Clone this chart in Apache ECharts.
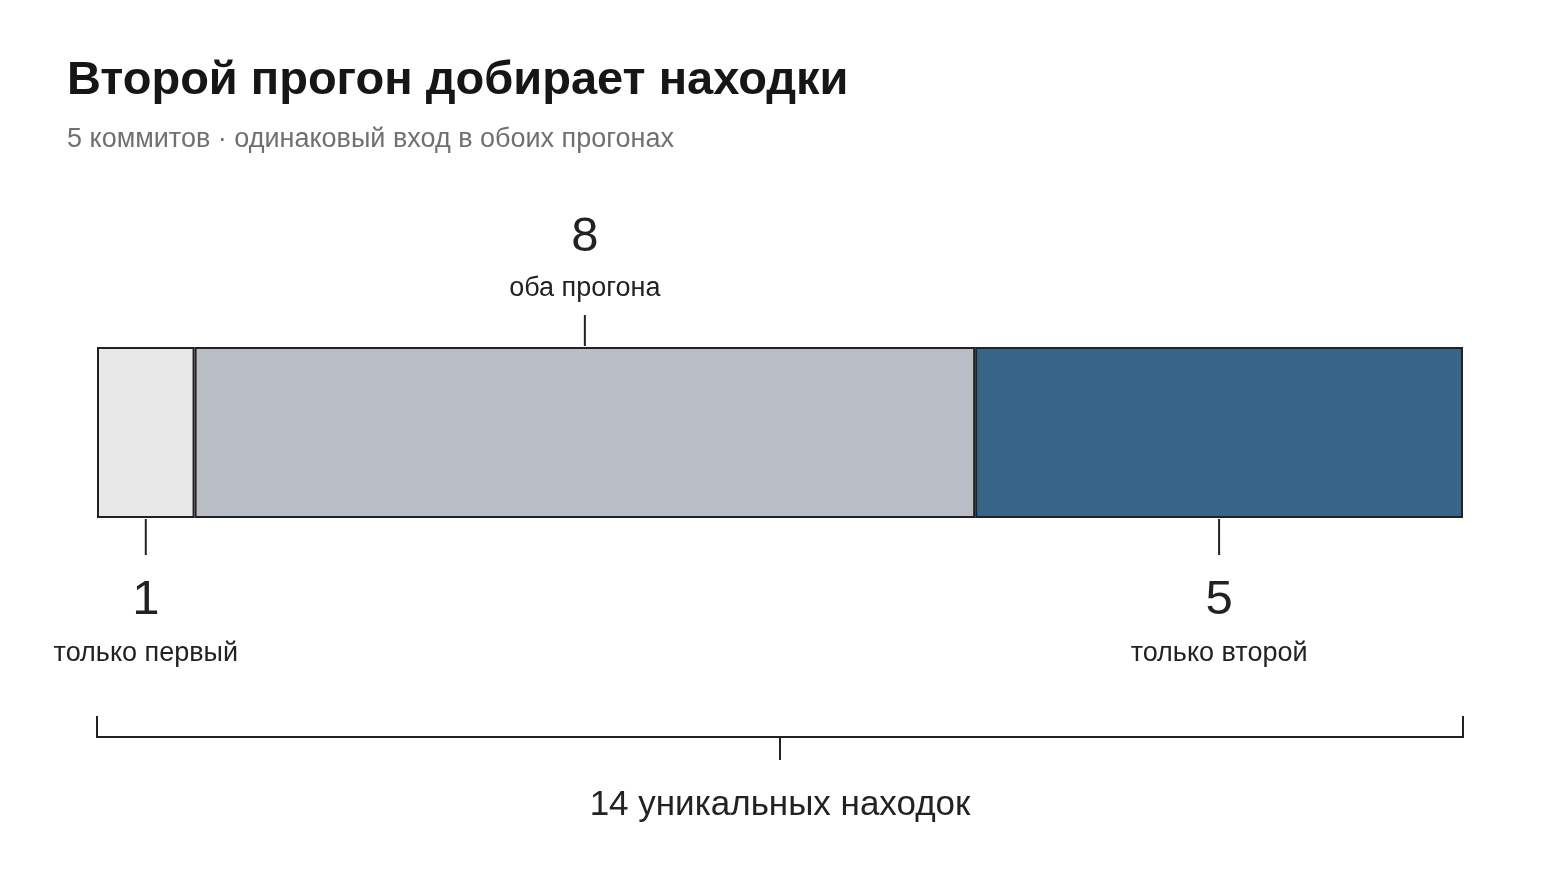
<!DOCTYPE html>
<html>
<head>
<meta charset="utf-8">
<script src="https://cdn.jsdelivr.net/npm/echarts@6/dist/echarts.min.js"></script>
<style>
  html, body { margin: 0; padding: 0; background: #fff; }
  #chart { width: 1560px; height: 877px; }
</style>
</head>
<body>
<div id="chart"></div>
<script>
// segments of the single bar
var segNames = ['только первый', 'оба прогона', 'только второй'];
var segValues = [1, 8, 5];
var segColors = ['#e8e8e8', '#b9bec6', '#376588'];
var segSide = ['bottom', 'top', 'bottom'];
var totalLabel = 'уникальных находок';

var FONT = '"Liberation Sans", Arial, sans-serif';

var chart = echarts.init(document.getElementById('chart'));

var total = 0;
var calloutData = [];
for (var i = 0; i < segValues.length; i++) {
    calloutData.push([total + segValues[i] / 2, 0, segValues[i], segNames[i], segSide[i]]);
    total += segValues[i];
}

var barSeries = segValues.map(function(v, i) {
    return {
        name: segNames[i],
        type: 'bar',
        stack: 'all',
        barWidth: '100%',
        data: [v],
        silent: true,
        itemStyle: {
            color: segColors[i],
            borderColor: '#222',
            borderWidth: 2
        }
    };
});

function renderCallout(params, api) {
    var x = api.value(0);
    var p = api.coord([x, 0]);
    var half = api.size([0, 1])[1] / 2;
    var top = p[1] - half;
    var bottom = p[1] + half;
    var side = calloutData[params.dataIndex][4];
    var num = String(api.value(2));
    var name = calloutData[params.dataIndex][3];
    var children;
    if (side === 'top') {
        children = [
            { type: 'line', shape: { x1: p[0], y1: top - 32, x2: p[0], y2: top - 1 }, style: { stroke: '#222', lineWidth: 2 } },
            { type: 'text', style: { x: p[0], y: top - 110, text: num, fill: '#222', font: '49px ' + FONT, textAlign: 'center', textVerticalAlign: 'middle' } },
            { type: 'text', style: { x: p[0], y: top - 58, text: name, fill: '#222', font: '27px ' + FONT, textAlign: 'center', textVerticalAlign: 'middle' } }
        ];
    } else {
        children = [
            { type: 'line', shape: { x1: p[0], y1: bottom + 1, x2: p[0], y2: bottom + 37 }, style: { stroke: '#222', lineWidth: 2 } },
            { type: 'text', style: { x: p[0], y: bottom + 82, text: num, fill: '#222', font: '49px ' + FONT, textAlign: 'center', textVerticalAlign: 'middle' } },
            { type: 'text', style: { x: p[0], y: bottom + 136, text: name, fill: '#222', font: '27px ' + FONT, textAlign: 'center', textVerticalAlign: 'middle' } }
        ];
    }
    return { type: 'group', children: children };
}

function renderBracket(params, api) {
    var a = api.coord([0, 0]);
    var b = api.coord([total, 0]);
    var m = api.coord([total / 2, 0]);
    var half = api.size([0, 1])[1] / 2;
    var y = a[1] + half + 219;
    return {
        type: 'group',
        children: [
            { type: 'polyline', shape: { points: [[a[0], y - 21], [a[0], y], [b[0], y], [b[0], y - 21]] }, style: { stroke: '#222', lineWidth: 2, fill: null } },
            { type: 'line', shape: { x1: m[0], y1: y, x2: m[0], y2: y + 23 }, style: { stroke: '#222', lineWidth: 2 } },
            { type: 'text', style: { x: m[0], y: y + 68, text: total + ' ' + totalLabel, fill: '#222', font: '35px ' + FONT, textAlign: 'center', textVerticalAlign: 'middle' } }
        ]
    };
}

var option = {
    backgroundColor: '#fff',
    animation: false,
    title: {
        text: 'Второй прогон добирает находки',
        subtext: '5 коммитов · одинаковый вход в обоих прогонах',
        left: 67,
        top: 58,
        padding: 0,
        itemGap: 21,
        textStyle: { fontFamily: FONT, fontSize: 47, fontWeight: 'bold', color: '#161616' },
        subtextStyle: { fontFamily: FONT, fontSize: 27, color: '#707070' }
    },
    grid: { left: 97, right: 97, top: 347, height: 171 },
    xAxis: { type: 'value', min: 0, max: total, show: false },
    yAxis: { type: 'category', data: ['all'], show: false },
    series: barSeries.concat([
        {
            type: 'custom',
            silent: true,
            renderItem: renderCallout,
            data: calloutData.map(function(d) { return [d[0], d[1], d[2]]; }),
            z: 5
        },
        {
            type: 'custom',
            silent: true,
            renderItem: renderBracket,
            data: [[total / 2, 0]],
            z: 5
        }
    ])
};

chart.setOption(option);
</script>
</body>
</html>
